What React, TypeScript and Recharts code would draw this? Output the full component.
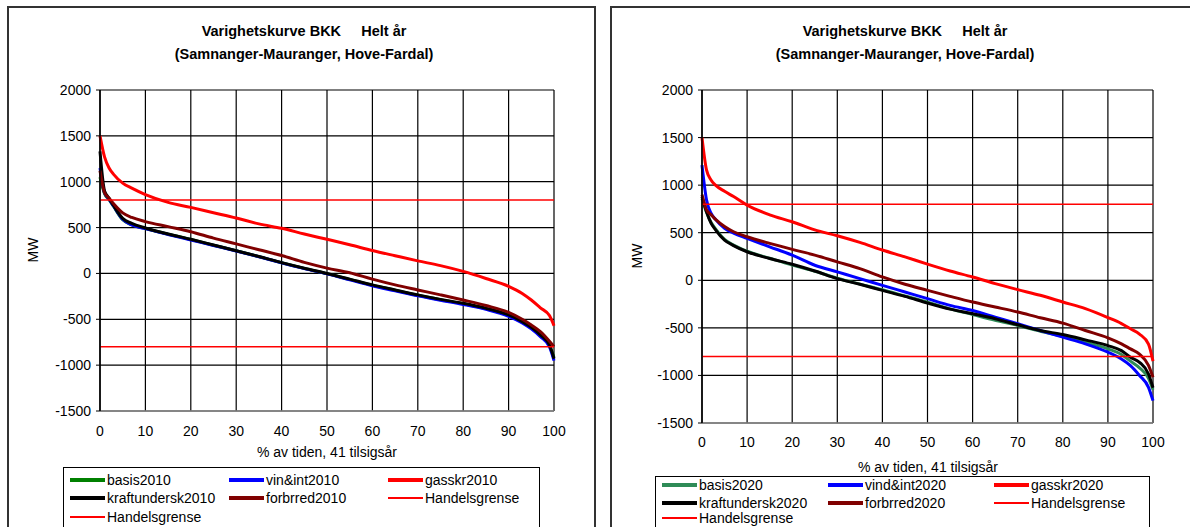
import React from "react";
import {
  LineChart,
  Line,
  XAxis,
  YAxis,
  CartesianGrid,
  ReferenceLine,
} from "recharts";

// % av tiden (x positions of the sampled points)
const pct = [0, 1, 2, 3, 5, 7, 10, 15, 20, 25, 30, 35, 40, 45, 50, 55, 60, 65, 70, 75, 80, 85, 90, 93, 95, 97, 99, 100];

// 2010 series (MW)
const basis2010 = [1050, 870, 805, 730, 585, 530, 490, 428, 370, 308, 247, 183, 117, 55, -2, -65, -128, -183, -238, -286, -330, -384, -458, -530, -592, -675, -785, -920];
const vinInt2010 = [1150, 880, 810, 735, 590, 530, 488, 425, 365, 305, 245, 182, 115, 52, -5, -70, -135, -190, -245, -292, -338, -392, -468, -540, -605, -690, -800, -950];
const gasskr2010 = [1500, 1270, 1150, 1080, 985, 930, 860, 775, 720, 662, 604, 540, 492, 430, 372, 313, 250, 193, 137, 85, 22, -55, -140, -218, -290, -375, -460, -570];
const kraftundersk2010 = [1330, 900, 820, 740, 600, 545, 495, 430, 372, 310, 248, 184, 118, 57, 0, -62, -125, -180, -234, -283, -326, -380, -453, -525, -588, -670, -780, -930];
const forbrred2010 = [1120, 880, 820, 760, 660, 610, 565, 510, 455, 385, 322, 258, 195, 120, 58, 8, -62, -125, -180, -234, -290, -350, -425, -500, -562, -635, -740, -800];

// 2020 series (MW)
const basis2020 = [860, 715, 610, 540, 430, 370, 305, 232, 160, 95, 22, -40, -100, -165, -230, -300, -360, -420, -475, -535, -590, -650, -720, -780, -850, -920, -1030, -1150];
const vindInt2020 = [1210, 845, 705, 640, 545, 495, 440, 352, 264, 158, 88, 18, -53, -123, -193, -264, -317, -387, -457, -528, -598, -668, -756, -827, -897, -1000, -1125, -1265];
const gasskr2020 = [1500, 1160, 1055, 1000, 935, 880, 790, 688, 615, 530, 468, 398, 318, 246, 170, 98, 35, -35, -98, -158, -228, -298, -392, -455, -510, -565, -670, -850];
const kraftundersk2020 = [880, 720, 600, 530, 422, 365, 300, 229, 169, 98, 18, -42, -106, -169, -239, -303, -352, -404, -468, -528, -570, -626, -686, -739, -809, -862, -985, -1130];
const forbrred2020 = [900, 740, 690, 640, 565, 510, 458, 388, 325, 265, 193, 123, 35, -42, -106, -169, -229, -281, -334, -394, -450, -528, -605, -668, -721, -775, -895, -1020];

// trading limits
const handelsgrense = [800, -800];

const xTicks = [0, 10, 20, 30, 40, 50, 60, 70, 80, 90, 100];
const yTicks = [-1500, -1000, -500, 0, 500, 1000, 1500, 2000];

const FONT = "'Liberation Sans', Arial, sans-serif";

type Series = { key: string; name: string; color: string; values: number[] };

const series2010: Series[] = [
  { key: "basis", name: "basis2010", color: "#008000", values: basis2010 },
  { key: "vin", name: "vin&int2010", color: "#0000ff", values: vinInt2010 },
  { key: "gass", name: "gasskr2010", color: "#ff0000", values: gasskr2010 },
  { key: "kraft", name: "kraftundersk2010", color: "#000000", values: kraftundersk2010 },
  { key: "forb", name: "forbrred2010", color: "#800000", values: forbrred2010 },
];

const series2020: Series[] = [
  { key: "basis", name: "basis2020", color: "#2e8b57", values: basis2020 },
  { key: "vin", name: "vind&int2020", color: "#0000ff", values: vindInt2020 },
  { key: "gass", name: "gasskr2020", color: "#ff0000", values: gasskr2020 },
  { key: "kraft", name: "kraftundersk2020", color: "#000000", values: kraftundersk2020 },
  { key: "forb", name: "forbrred2020", color: "#800000", values: forbrred2020 },
];

const buildRows = (list: Series[]) =>
  pct.map((p, i) => {
    const row: Record<string, number> = { pct: p };
    list.forEach((s) => (row[s.key] = s.values[i]));
    return row;
  });

type Geo = {
  boxLeft: number;
  boxWidth: number;
  chartLeft: number;
  chartWidth: number;
  chartHeight: number;
  margin: { top: number; right: number; bottom: number; left: number };
  tickMarginX: number;
  titleX: number;
  mwX: number;
  mwY: number;
  xLabelX: number;
  xLabelY: number;
  legendLeft: number;
  legendTop: number;
  legendWidth: number;
  legendCols: number[];
  legendRows: number[];
};

const Panel = ({ list, geo }: { list: Series[]; geo: Geo }) => {
  const rows = buildRows(list);
  const legendItems = [
    ...list.map((s) => ({ name: s.name, color: s.color, w: 4 })),
    { name: "Handelsgrense", color: "#ff0000", w: 1.5 },
    { name: "Handelsgrense", color: "#ff0000", w: 1.5 },
  ];
  return (
    <>
      <div
        style={{
          position: "absolute",
          left: geo.boxLeft,
          top: 6,
          width: geo.boxWidth,
          height: 560,
          border: "2px solid #333",
          boxSizing: "border-box",
        }}
      />
      <div
        style={{
          position: "absolute",
          left: geo.titleX - 200,
          width: 400,
          top: 20,
          textAlign: "center",
          fontFamily: FONT,
          fontWeight: "bold",
          fontSize: 14.5,
          lineHeight: "23px",
          whiteSpace: "pre",
        }}
      >
        {"Varighetskurve BKK     Helt år"}
        <br />
        {"(Samnanger-Mauranger, Hove-Fardal)"}
      </div>
      <div
        style={{
          position: "absolute",
          left: geo.mwX - 20,
          top: geo.mwY - 8,
          width: 40,
          textAlign: "center",
          fontFamily: FONT,
          fontSize: 14,
          lineHeight: "16px",
          transform: "rotate(-90deg)",
        }}
      >
        MW
      </div>
      <div style={{ position: "absolute", left: geo.chartLeft, top: 0 }}>
        <LineChart
          width={geo.chartWidth}
          height={geo.chartHeight}
          data={rows}
          margin={geo.margin}
          style={{ fontFamily: FONT }}
        >
          <CartesianGrid stroke="#000" strokeWidth={1.2} ticks={yTicks} />
          <XAxis
            dataKey="pct"
            type="number"
            domain={[0, 100]}
            ticks={xTicks}
            height={30}
            tickLine={false}
            tickSize={0}
            tickMargin={geo.tickMarginX}
            axisLine={{ stroke: "#888", strokeWidth: 1.5 }}
            tick={{ fill: "#000", fontSize: 14 }}
          />
          <YAxis
            type="number"
            domain={[-1500, 2000]}
            ticks={yTicks}
            width={60}
            tickSize={4}
            tickMargin={5}
            axisLine={{ stroke: "#000", strokeWidth: 1.5 }}
            tickLine={{ stroke: "#000" }}
            tick={{ fill: "#000", fontSize: 14 }}
          />
          {list.map((s) => (
            <Line
              key={s.key}
              dataKey={s.key}
              name={s.name}
              type="monotone"
              stroke={s.color}
              strokeWidth={3}
              dot={false}
              isAnimationActive={false}
            />
          ))}
          {handelsgrense.map((v, i) => (
            <ReferenceLine key={i} y={v} stroke="#ff0000" strokeWidth={1.5} />
          ))}
        </LineChart>
      </div>
      <div
        style={{
          position: "absolute",
          left: geo.xLabelX - 120,
          width: 240,
          top: geo.xLabelY - 8,
          textAlign: "center",
          fontFamily: FONT,
          fontSize: 14,
          lineHeight: "16px",
        }}
      >
        % av tiden, 41 tilsigsår
      </div>
      <div
        style={{
          position: "absolute",
          left: geo.legendLeft,
          top: geo.legendTop,
          width: geo.legendWidth,
          height: 100,
          border: "1.5px solid #000",
          boxSizing: "border-box",
        }}
      >
        {legendItems.map((it, i) => (
          <div
            key={i}
            style={{
              position: "absolute",
              left: geo.legendCols[i % 3],
              top: geo.legendRows[Math.floor(i / 3)] - 8,
              display: "flex",
              alignItems: "center",
              height: 16,
              fontFamily: FONT,
              fontSize: 14,
              whiteSpace: "nowrap",
            }}
          >
            <div style={{ width: 35, height: it.w, background: it.color, marginRight: 2 }} />
            <span>{it.name}</span>
          </div>
        ))}
      </div>
    </>
  );
};

const leftGeo: Geo = {
  boxLeft: 7,
  boxWidth: 589,
  chartLeft: 0,
  chartWidth: 600,
  chartHeight: 460,
  margin: { top: 90, right: 46, bottom: 19, left: 40 },
  tickMarginX: 15,
  titleX: 304,
  mwX: 33,
  mwY: 250,
  xLabelX: 327,
  xLabelY: 452,
  legendLeft: 63,
  legendTop: 467,
  legendWidth: 477,
  legendCols: [6, 165, 324],
  legendRows: [12, 30, 49],
};

const rightGeo: Geo = {
  boxLeft: 610,
  boxWidth: 590,
  chartLeft: 600,
  chartWidth: 590,
  chartHeight: 470,
  margin: { top: 90, right: 37, bottom: 17, left: 42 },
  tickMarginX: 14,
  titleX: 905,
  mwX: 637,
  mwY: 256,
  xLabelX: 928,
  xLabelY: 467,
  legendLeft: 655,
  legendTop: 476,
  legendWidth: 495,
  legendCols: [6, 172, 338],
  legendRows: [8, 26, 41],
};

export default function App() {
  return (
    <div
      style={{
        position: "absolute",
        left: 0,
        top: 0,
        width: 1190,
        height: 527,
        overflow: "hidden",
        background: "#fff",
      }}
    >
      <Panel list={series2010} geo={leftGeo} />
      <Panel list={series2020} geo={rightGeo} />
    </div>
  );
}
